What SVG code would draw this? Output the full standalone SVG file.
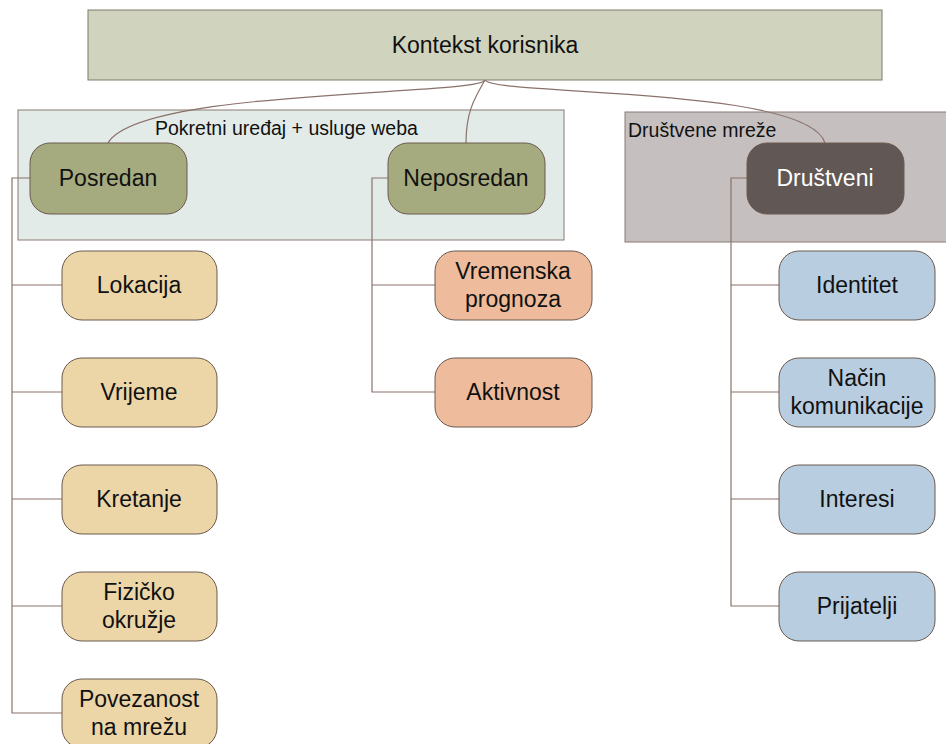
<svg xmlns="http://www.w3.org/2000/svg" width="946" height="744" viewBox="0 0 946 744">
  <style>
    text { font-family: "Liberation Sans", Arial, sans-serif; fill: #111; text-anchor: middle; dominant-baseline: central; }
    .lbl { font-size: 23px; }
    .grp { font-size: 19.5px; text-anchor: start; }
    .node { stroke: #6b5a4e; stroke-width: 1; }
    .mid { fill: #a6ab7f; }
    .loc { fill: #ecd6a8; }
    .env { fill: #eebc9c; }
    .soc { fill: #b8cde0; }
    .conn { fill: none; stroke: #8a726a; stroke-width: 1.2; }
  </style>

  <!-- group backgrounds -->
  <g id="group-mobile">
    <rect x="18" y="110" width="546" height="130" fill="#e3ebe8" stroke="#8a7a72" stroke-width="1"/>
    <text class="grp" x="155" y="128">Pokretni uređaj + usluge weba</text>
  </g>
  <g id="group-social">
    <rect x="625" y="112" width="330" height="130" fill="#c6bfbf" stroke="#8a7a72" stroke-width="1"/>
    <text class="grp" x="628" y="130">Društvene mreže</text>
  </g>

  <!-- connectors -->
  <g id="connectors">
    <path class="conn" d="M485,80 C480,96 140,88 108,143"/>
    <path class="conn" d="M485,80 C476,96 466,110 466,143"/>
    <path class="conn" d="M485,80 C494,96 808,86 825,143"/>
    <path class="conn" d="M30,178 H12 V713 H62 M12,285 H62 M12,392 H62 M12,499 H62 M12,606 H62"/>
    <path class="conn" d="M388,178 H372 V392 H435 M372,285 H435"/>
    <path class="conn" d="M747,178 H731 V606 H779 M731,285 H779 M731,392 H779 M731,499 H779"/>
  </g>

  <g id="root">
    <rect x="88" y="10" width="794" height="70" fill="#d0d3be" stroke="#7f7a6c" stroke-width="1"/>
    <text class="lbl" x="485" y="45">Kontekst korisnika</text>
  </g>

  <g id="posredan">
    <rect class="node mid" x="30" y="143" width="157" height="71" rx="20"/>
    <text class="lbl" x="108" y="178">Posredan</text>
  </g>
  <g id="neposredan">
    <rect class="node mid" x="388" y="143" width="157" height="71" rx="20"/>
    <text class="lbl" x="466" y="178">Neposredan</text>
  </g>
  <g id="drustveni">
    <rect class="node" x="747" y="143" width="157" height="71" rx="20" fill="#615856"/>
    <text class="lbl" x="825" y="178" style="fill:#fff">Društveni</text>
  </g>

  <g id="lokacija">
    <rect class="node loc" x="62" y="251" width="155" height="69" rx="20"/>
    <text class="lbl" x="139" y="285">Lokacija</text>
  </g>
  <g id="vrijeme">
    <rect class="node loc" x="62" y="358" width="155" height="69" rx="20"/>
    <text class="lbl" x="139" y="392">Vrijeme</text>
  </g>
  <g id="kretanje">
    <rect class="node loc" x="62" y="465" width="155" height="69" rx="20"/>
    <text class="lbl" x="139" y="499">Kretanje</text>
  </g>
  <g id="fizicko-okruzje">
    <rect class="node loc" x="62" y="572" width="155" height="69" rx="20"/>
    <text class="lbl" x="139" y="592">Fizičko</text>
    <text class="lbl" x="139" y="620">okružje</text>
  </g>
  <g id="povezanost">
    <rect class="node loc" x="62" y="679" width="155" height="69" rx="20"/>
    <text class="lbl" x="139" y="699">Povezanost</text>
    <text class="lbl" x="139" y="727">na mrežu</text>
  </g>

  <g id="vremenska-prognoza">
    <rect class="node env" x="435" y="251" width="157" height="69" rx="20"/>
    <text class="lbl" x="513" y="271">Vremenska</text>
    <text class="lbl" x="513" y="299">prognoza</text>
  </g>
  <g id="aktivnost">
    <rect class="node env" x="435" y="358" width="157" height="69" rx="20"/>
    <text class="lbl" x="513" y="392">Aktivnost</text>
  </g>

  <g id="identitet">
    <rect class="node soc" x="779" y="251" width="156" height="69" rx="20"/>
    <text class="lbl" x="857" y="285">Identitet</text>
  </g>
  <g id="nacin-komunikacije">
    <rect class="node soc" x="779" y="358" width="156" height="69" rx="20"/>
    <text class="lbl" x="857" y="378">Način</text>
    <text class="lbl" x="857" y="406">komunikacije</text>
  </g>
  <g id="interesi">
    <rect class="node soc" x="779" y="465" width="156" height="69" rx="20"/>
    <text class="lbl" x="857" y="499">Interesi</text>
  </g>
  <g id="prijatelji">
    <rect class="node soc" x="779" y="572" width="156" height="69" rx="20"/>
    <text class="lbl" x="857" y="606">Prijatelji</text>
  </g>
</svg>
